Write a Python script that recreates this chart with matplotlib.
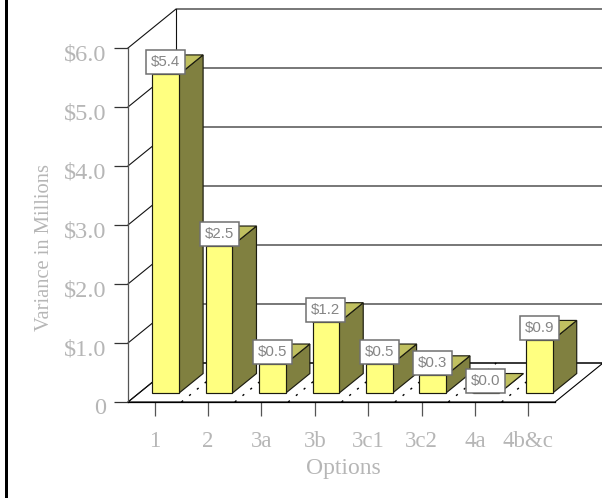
import matplotlib
matplotlib.use("Agg")
import matplotlib.pyplot as plt
from matplotlib.patches import Polygon, Rectangle
from matplotlib.transforms import Affine2D, ScaledTranslation

categories = ["1", "2", "3a", "3b", "3c1", "3c2", "4a", "4b&c"]
variance = [5.4, 2.5, 0.5, 1.2, 0.5, 0.3, 0.0, 0.9]
value_labels = ["$5.4", "$2.5", "$0.5", "$1.2", "$0.5", "$0.3", "$0.0", "$0.9"]
y_ticks = [0, 1, 2, 3, 4, 5, 6]
y_tick_labels = ["0", "$1.0", "$2.0", "$3.0", "$4.0", "$5.0", "$6.0"]

FRONT = "#FFFF80"
SIDE = "#808040"
TOP = "#C0C060"
EDGE = "#1c1c10"
TEXT = "#b6b6b6"
SERIF = "Liberation Serif"

W, H = 602, 498
fig = plt.figure(figsize=(W / 100, H / 100), dpi=100, facecolor="white")
# Front plane of the 3-D box, in pixels: left, bottom, right, top
L, B, R, T = 128, 402, 555, 48
ax = fig.add_axes([L / W, 1 - B / H, (R - L) / W, (B - T) / H])
ax.set_xlim(0, len(categories))
ax.set_ylim(0, 6)
ax.patch.set_visible(False)

# Oblique projection: depth 0 is the front plane, depth 1 the back wall
DEPTH_X = 0.9
DEPTH_Y = 0.661
BAR_NEAR, BAR_FAR = 0.23, 0.73
BAR_WIDTH = 0.5
TAG_W, TAG_H = 39, 24  # value tag size in pixels


def proj(x, v, z):
    return (x + DEPTH_X * z, v + DEPTH_Y * z)


def poly(points, face, edge=EDGE, lw=0.85, z=2):
    ax.add_patch(Polygon(points, closed=True, facecolor=face, edgecolor=edge,
                         linewidth=lw, zorder=z, clip_on=False,
                         joinstyle="miter"))


n = len(categories)
# Floor and its dotted category divisions
poly([proj(0, 0, 0), proj(0, 0, 1), proj(n, 0, 1), proj(n, 0, 0)], "white", "black", 0.8, 1)
for i in range(1, n):
    p0, p1 = proj(i, 0, 0), proj(i, 0, 1)
    ax.plot([p0[0], p1[0]], [p0[1], p1[1]], color="black", lw=1.0,
            dashes=(1.6, 5.6), zorder=1.5, clip_on=False)

# Wall gridlines: left wall diagonals and back wall horizontals
for v in y_ticks:
    a, b, c = proj(0, v, 0), proj(0, v, 1), proj(n, v, 1)
    ax.plot([a[0], b[0], c[0]], [a[1], b[1], c[1]], color="#111111", lw=0.8,
            zorder=1.2, clip_on=False, solid_joinstyle="miter")
a, b = proj(0, 0, 1), proj(0, 6, 1)
ax.plot([a[0], b[0]], [a[1], b[1]], color="#111111", lw=0.8, zorder=1.2, clip_on=False)

# Bars, drawn left to right so that later ones overlap earlier ones
for i, val in enumerate(variance):
    x0 = i + 0.5 - BAR_WIDTH / 2
    x1 = i + 0.5 + BAR_WIDTH / 2
    zo = 3 + i * 0.1
    poly([proj(x1, 0, BAR_NEAR), proj(x1, 0, BAR_FAR), proj(x1, val, BAR_FAR),
          proj(x1, val, BAR_NEAR)], SIDE, z=zo)
    poly([proj(x0, val, BAR_NEAR), proj(x0, val, BAR_FAR), proj(x1, val, BAR_FAR),
          proj(x1, val, BAR_NEAR)], TOP, z=zo)
    poly([proj(x0, 0, BAR_NEAR), proj(x1, 0, BAR_NEAR), proj(x1, val, BAR_NEAR),
          proj(x0, val, BAR_NEAR)], FRONT, z=zo)

# Value tags sit on the top front edge of each bar
for i, (val, lab) in enumerate(zip(variance, value_labels)):
    anchor = proj(i + 0.5, val, BAR_NEAR)
    px, py = ax.transData.transform(anchor)
    ax.add_patch(Rectangle((-TAG_W / 2, 0), TAG_W, TAG_H, facecolor="white",
                           edgecolor="#707070", linewidth=1.1, zorder=10,
                           clip_on=False, transform=Affine2D().translate(px, py)))
    ax.annotate(lab, xy=anchor, xytext=(0, TAG_H / 2 * 0.72),
                textcoords="offset points", ha="center", va="center",
                fontsize=10.8, family="Liberation Sans", color="#858585",
                zorder=11, annotation_clip=False)

# Axes
for side in ("top", "right"):
    ax.spines[side].set_visible(False)
ax.spines["left"].set_color("#555555")
ax.spines["left"].set_linewidth(0.9)
ax.spines["bottom"].set_color("black")
ax.spines["bottom"].set_linewidth(0.9)
ax.spines["left"].set_zorder(2.5)
ax.spines["bottom"].set_zorder(2.5)

ax.set_xticks([i + 0.5 for i in range(n)])
ax.set_xticklabels(categories, family=SERIF, fontsize=16.5, color=TEXT)
ax.tick_params(axis="x", length=10, width=0.9, color="#555555", pad=11)
ax.set_yticks(y_ticks)
ax.set_yticklabels(y_tick_labels, family=SERIF, fontsize=17.5, color=TEXT)
ax.tick_params(axis="y", length=10, width=0.9, color="#333333", pad=5.5)
for tick_label in ax.get_yticklabels():
    tick_label.set_transform(tick_label.get_transform()
                             + ScaledTranslation(0, -3 / 72, fig.dpi_scale_trans))

ax.set_xlabel("Options", family=SERIF, fontsize=17, color=TEXT)
ax.xaxis.set_label_coords((343 - L) / (R - L), (B - 468) / (B - T), transform=ax.transAxes)
ax.xaxis.label.set_verticalalignment("center")
ax.set_ylabel("Variance in Millions", family=SERIF, fontsize=14.8, color=TEXT)
ax.yaxis.set_label_coords((45 - L) / (R - L), (B - 247) / (B - T), transform=ax.transAxes)
ax.yaxis.label.set_verticalalignment("center")

# Heavy rule down the left side of the page
fig.add_artist(Rectangle((5 / W, 0), 3 / W, 1, transform=fig.transFigure,
                         facecolor="black", edgecolor="none"))

fig.savefig("out.png", dpi=100, facecolor="white")
